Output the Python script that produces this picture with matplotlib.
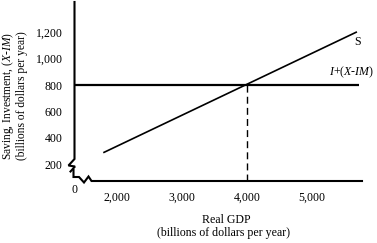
import matplotlib
matplotlib.use("Agg")
import matplotlib.pyplot as plt

plt.rcParams['font.family'] = ['Liberation Serif', 'DejaVu Serif']
plt.rcParams['mathtext.fontset'] = 'custom'
plt.rcParams['mathtext.it'] = 'Liberation Serif:italic'
plt.rcParams['mathtext.rm'] = 'Liberation Serif'

# data
saving_x = [1800, 5680]
saving_y = [290, 1200]
inv_x = [1338, 5720]
inv_y = [800, 800]
equil_x = 4000
equil_y = 800
x_ticks = [2000, 3000, 4000, 5000]
x_tick_labels = ['2,000', '3,000', '4,000', '5,000']
y_ticks = [200, 400, 600, 800, 1000, 1200]
y_tick_labels = ['200', '400', '600', '800', '1,000', '1,200']

FS = 8.6
W, H = 377, 243
fig = plt.figure(figsize=(W / 100, H / 100), dpi=100)
# axes box in pixels: left 74, right 377, top 0, bottom 181
L, R, T, B = 74, 377, 0, 181
ax = fig.add_axes([L / W, (H - B) / H, (R - L) / W, (B - T) / H])
X0, X1 = 1338, 6000
Y0, Y1 = 73, 1444
ax.set_xlim(X0, X1)
ax.set_ylim(Y0, Y1)
for s in ax.spines.values():
    s.set_visible(False)
ax.set_xticks(x_ticks, x_tick_labels)
ax.set_yticks(y_ticks, y_tick_labels)
ax.tick_params(length=0, labelsize=FS)
ax.tick_params(axis='y', pad=8.3)
ax.tick_params(axis='x', pad=7.5)

def px(xp, yp):
    # pixel -> data
    return (X0 + (xp - L) / (R - L) * (X1 - X0),
            Y1 - (yp - T) / (B - T) * (Y1 - Y0))

def poly(points, **kw):
    xs, ys = zip(*[px(a, b) for a, b in points])
    ax.plot(xs, ys, color='black', clip_on=False, solid_joinstyle='miter', **kw)

# y axis with break
poly([(74.5, 2), (74.5, 159), (68.5, 165.5), (75, 166.5), (70.5, 171.5)], lw=1.5)
# x axis with break
poly([(73.5, 170), (73.5, 177), (79, 177), (84, 182.5), (88.5, 176.5), (91.5, 181),
      (362, 181)], lw=1.5)

ax.plot(inv_x, inv_y, color='black', lw=1.6, solid_capstyle='butt')
ax.plot(saving_x, saving_y, color='black', lw=1.2)
ax.plot([equil_x, equil_x], [Y0, equil_y], color='black', lw=1.0,
        dashes=(5, 3))

ax.text(*px(358, 42), 'S', fontsize=FS, ha='center', va='center')
ax.text(*px(352, 72), r'$I$+($X$-$IM$)', fontsize=FS, ha='center', va='center')
ax.text(*px(75, 189.5), '0', fontsize=FS, ha='center', va='center', clip_on=False)

YFS = 8.3
fig.text(8.5 / W, 1 - 96 / H, r'Saving, Investment, ($X$-$IM$)', rotation=90,
         fontsize=YFS, ha='center', va='center')
fig.text(22 / W, 1 - 96 / H, '(billions of dollars per year)', rotation=90,
         fontsize=YFS, ha='center', va='center')
fig.text(226 / W, 1 - 220 / H, 'Real GDP', fontsize=FS, ha='center', va='center')
fig.text(224 / W, 1 - 233 / H, '(billions of dollars per year)', fontsize=FS,
         ha='center', va='center')

fig.savefig('out.png', dpi=100)
